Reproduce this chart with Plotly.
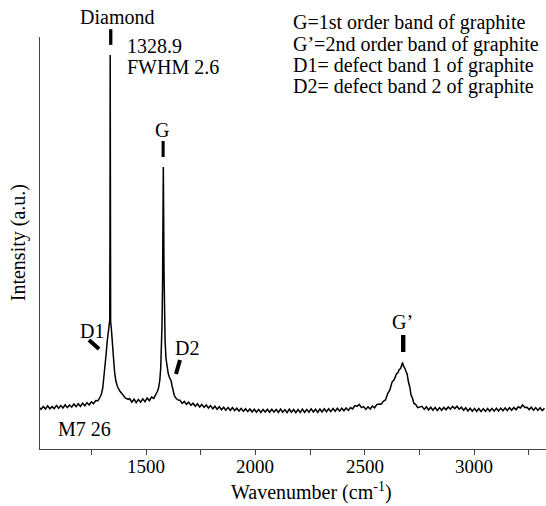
import plotly.graph_objects as go

# ---- data (intensity in arbitrary units) ----
wn_left = [1010, 1020, 1030, 1040, 1050, 1060, 1070, 1080, 1090, 1100, 1110, 1120, 1130, 1140,
           1150, 1160, 1170, 1180, 1190, 1200, 1210, 1220, 1230, 1240, 1250, 1260, 1270, 1280, 1290]
int_left = [3.2, 0.6, 3.6, 1.0, 4.2, 1.2, 3.4, 1.4, 4.6, 1.8, 4.4, 2.0, 5.2, 2.4,
            5.0, 2.8, 6.0, 3.4, 6.2, 3.6, 6.8, 4.2, 7.4, 5.0, 8.2, 6.4, 9.4, 9.2, 13.0]

wn_d1 = [1296, 1302, 1307, 1312, 1317, 1322, 1327, 1331, 1334, 1335.2, 1336, 1336.8, 1338,
         1341, 1345, 1350, 1356, 1362, 1370, 1380, 1392, 1405, 1418]
int_d1 = [16, 22, 31, 42, 55, 68, 79, 86, 90, 200, 355, 200, 88,
          82, 68, 52, 38, 29, 23, 19, 15, 12, 10.5]

wn_mid = [1425, 1435, 1445, 1455, 1465, 1475, 1485, 1495, 1505, 1515, 1525, 1535, 1545, 1553]
int_mid = [11.4, 7.8, 10.8, 7.4, 10.6, 7.8, 11.2, 8.4, 12.0, 9.4, 13.0, 11.6, 16.0, 19.0]

wn_g = [1558, 1563, 1567, 1570, 1573, 1575.5, 1577.5, 1579, 1580.5, 1582, 1584, 1587, 1591,
        1596, 1601, 1606, 1611, 1615, 1619, 1624, 1630, 1638, 1647]
int_g = [23, 30, 42, 58, 85, 125, 185, 243, 195, 140, 100, 70, 52,
         42, 37, 33, 31, 29, 24, 18, 14, 11.5, 10]

wn_flat = [1655, 1665, 1675, 1685, 1695, 1705, 1715, 1725, 1735, 1745, 1755, 1765, 1775, 1785,
           1795, 1805, 1815, 1825, 1835, 1845, 1855, 1865, 1875, 1885, 1895, 1905, 1915, 1925,
           1935, 1945, 1955, 1965, 1975, 1985, 1995, 2005, 2015, 2025, 2035, 2045, 2055, 2065,
           2075, 2085, 2095, 2105, 2115, 2125, 2135, 2145, 2155, 2165, 2175, 2185, 2195, 2205,
           2215, 2225, 2235, 2245, 2255, 2265, 2275, 2285, 2295, 2305, 2315, 2325, 2335, 2345,
           2355, 2365, 2375, 2385, 2395, 2405, 2415, 2425, 2435, 2445, 2455, 2465, 2475, 2485,
           2495, 2505, 2515, 2525, 2535, 2545, 2555]
int_flat = [9.8, 6.6, 8.6, 5.6, 7.8, 4.6, 6.8, 3.8, 6.2, 3.0, 5.6, 2.6, 5.0, 2.0,
            4.4, 1.2, 3.8, 0.8, 3.2, 0.2, 2.8, -0.2, 2.6, -0.4, 2.4, -0.6, 1.8, -1.0,
            1.6, -1.4, 1.2, -1.6, 1.0, -2.0, 0.8, -2.2, 0.6, -2.4, 0.6, -2.0, 0.8, -2.3,
            0.7, -2.1, 0.5, -2.4, 0.9, -2.2, 0.4, -2.6, 0.8, -2.3, 0.5, -2.7, 0.4, -2.4,
            0.9, -2.5, 0.6, -2.2, 1.1, -2.0, 0.8, -2.3, 1.0, -1.9, 1.2, -1.8, 1.3, -1.6,
            1.5, -1.3, 1.7, -1.1, 1.8, -0.8, 2.0, -0.4, 2.4, 1.0, 4.4, 3.6, 5.6, 2.4,
            3.4, 0.6, 3.2, 1.0, 4.0, 2.2, 5.4]

wn_g2 = [2565, 2575, 2585, 2595, 2605, 2615, 2625, 2635, 2645, 2652, 2658, 2664, 2669, 2673,
         2677, 2682, 2688, 2694, 2700, 2706, 2712, 2718, 2725, 2733, 2742, 2752]
int_g2 = [6.0, 5.8, 8.6, 10.0, 16.5, 20.0, 28.0, 30.5, 36.0, 37.5, 40.5, 41.5, 45.0, 47.5,
          44.0, 42.5, 39.0, 36.0, 28.0, 23.0, 15.0, 12.0, 6.5, 5.6, 2.4, 3.0]

wn_right = [2762, 2772, 2782, 2792, 2802, 2812, 2822, 2832, 2842, 2852, 2862, 2872, 2882, 2892,
            2902, 2912, 2922, 2932, 2942, 2952, 2962, 2972, 2982, 2992, 3002, 3012, 3022, 3032,
            3042, 3052, 3062, 3072, 3082, 3092, 3102, 3112, 3122, 3132, 3142, 3152, 3162, 3172,
            3182, 3192, 3202, 3212, 3222, 3232, 3242, 3252, 3262, 3272, 3282, 3292, 3302, 3312, 3322]
int_right = [3.6, 0.6, 3.2, 0.0, 2.8, -0.2, 2.6, -0.4, 2.4, -0.3, 2.6, 0.2, 3.0, 0.8,
             3.6, 1.4, 3.8, 0.8, 2.8, -0.2, 2.2, -1.0, 1.8, -1.2, 1.6, -1.4, 1.4, -1.6,
             1.3, -1.4, 1.5, -1.3, 1.6, -1.1, 1.8, -1.0, 1.9, -0.8, 2.1, -0.5, 2.3, -0.2,
             2.6, 0.2, 3.2, 2.0, 5.0, 2.6, 2.8, 0.4, 2.8, -0.2, 2.4, -0.4, 2.2, -0.6, 1.8]

wavenumber = wn_left + wn_d1 + wn_mid + wn_g + wn_flat + wn_g2 + wn_right
intensity = int_left + int_d1 + int_mid + int_g + int_flat + int_g2 + int_right

tick_vals = [1250, 1500, 1750, 2000, 2250, 2500, 2750, 3000, 3250]
label_vals = [1500, 2000, 2500, 3000]
label_text = ["1500", "2000", "2500", "3000"]

legend_lines = ["G=1st order band of graphite",
                "G\u2019=2nd order band of graphite",
                "D1= defect band 1 of graphite",
                "D2= defect band 2 of graphite"]

FONT = "Liberation Serif"
FS = 20

fig = go.Figure()
fig.add_trace(go.Scatter(x=wavenumber, y=intensity, mode="lines",
                         line=dict(color="black", width=1.5), showlegend=False,
                         hoverinfo="skip"))

X0, X1 = 1015, 3329
Y0, Y1 = -39, 373

fig.update_layout(
    width=546, height=506,
    margin=dict(l=40, r=0, t=37, b=57),
    paper_bgcolor="white", plot_bgcolor="white",
    font=dict(family=FONT, size=FS, color="black"),
    xaxis=dict(range=[X0, X1], showgrid=False, zeroline=False, showline=True,
               linecolor="#444", linewidth=1, ticks="outside", ticklen=5, tickwidth=1,
               tickcolor="#444", tickvals=tick_vals, showticklabels=False),
    yaxis=dict(range=[Y0, Y1], showgrid=False, zeroline=False, showline=True,
               linecolor="#444", linewidth=1, showticklabels=False, ticks=""),
)

def ann(text, x, y, xref="x", yref="y", xanchor="center", angle=0, size=FS):
    fig.add_annotation(text=text, x=x, y=y, xref=xref, yref=yref, xanchor=xanchor,
                       yanchor="middle", showarrow=False, textangle=angle,
                       font=dict(family=FONT, size=size, color="black"))

# tick labels
for v, t in zip(label_vals, label_text):
    ann(t, v, -0.043, yref="paper", size=19)

# peak labels
ann("Diamond", 1367, 1.049, yref="paper")
ann("1328.9", 1404, 0.978, yref="paper", xanchor="left")
ann("FWHM 2.6", 1404, 0.927, yref="paper", xanchor="left")
ann("G", 1573, 280)
ann("D1", 1253, 79)
ann("D2", 1685, 62)
ann("G\u2019", 2675, 88)
ann("M7 26", 1218, -19)

for i, t in enumerate(legend_lines):
    ann(t, 2163, [1.034, 0.982, 0.930, 0.879][i], yref="paper", xanchor="left")

# axis titles
ann("Wavenumber (cm<sup>-1</sup>)", 0.536, -0.104, xref="paper", yref="paper")
ann("Intensity (a.u.)", -0.043, 0.5, xref="paper", yref="paper", angle=-90)

# peak marker bars
fig.add_shape(type="rect", xref="x", yref="paper", x0=1331, x1=1346, y0=0.981, y1=1.019,
              fillcolor="black", line=dict(width=0))
fig.add_shape(type="rect", xref="x", yref="y", x0=1571, x1=1585, y0=253, y1=269,
              fillcolor="black", line=dict(width=0))
fig.add_shape(type="rect", xref="x", yref="y", x0=2666, x1=2686, y0=58, y1=75,
              fillcolor="black", line=dict(width=0))
fig.add_shape(type="line", xref="x", yref="y", x0=1239, y0=70, x1=1285, y1=61,
              line=dict(color="black", width=4))
fig.add_shape(type="line", xref="x", yref="y", x0=1655, y0=50, x1=1637, y1=36,
              line=dict(color="black", width=4))

fig.write_html("out.html", config={"displayModeBar": False},
               post_script="document.body.style.margin='0px';")
